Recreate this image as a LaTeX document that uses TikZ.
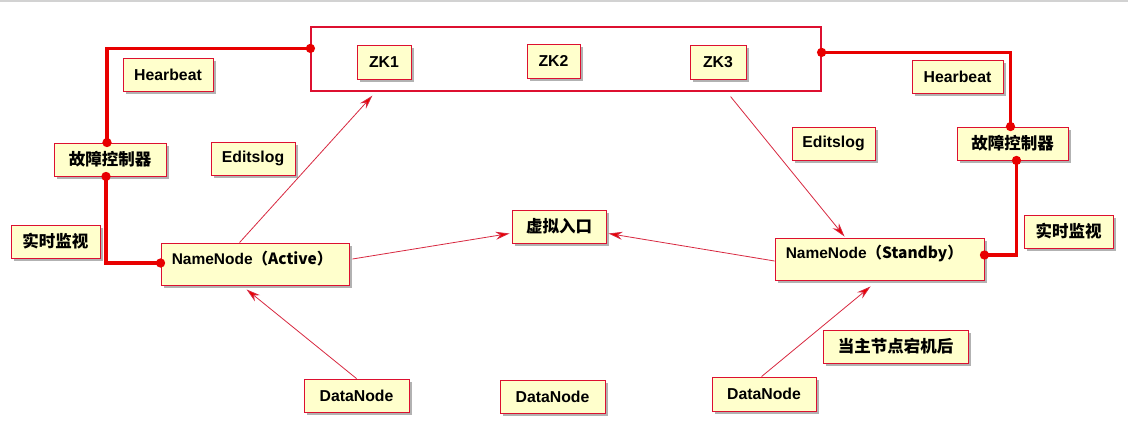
\documentclass[tikz,border=0pt]{standalone}
\usepackage{fontspec}
\setmainfont{Liberation Sans}
\newfontfamily\cjk{Noto Sans CJK SC}
\usetikzlibrary{arrows.meta,shadows,calc}
\definecolor{boxfill}{HTML}{FFFFCC}
\definecolor{boxline}{HTML}{DD1030}
\definecolor{thickc}{HTML}{E80000}
\definecolor{thinc}{HTML}{D82840}
\newcommand\bx[6]{\node[box, minimum width={#4-#2}, minimum height={#5-#3}] (#1) at ({(#2+#4)/2},{(#3+#5)/2}) {#6};}
\newcommand\zh[1]{{\cjk\bfseries\fontsize{16.5}{18}\selectfont #1}}
\begin{document}
\begin{tikzpicture}[x=1pt,y=-1pt,
  box/.style={draw=boxline, fill=boxfill, line width=0.9pt,
    drop shadow={shadow xshift=2.5pt, shadow yshift=-2.5pt, fill=black, opacity=0.3},
    inner sep=0pt, font=\bfseries\fontsize{15.8}{18}\selectfont},
  container/.style={draw=boxline, fill=white, line width=1.2pt, inner sep=0pt},
  txt/.style={anchor=west, inner sep=0pt, font=\bfseries\fontsize{15.5}{18}\selectfont},
  heavy/.style={draw=thickc, line width=3.6pt, {Circle[length=9pt]}-{Circle[length=9pt]}, shorten <=-4.5pt, shorten >=-4.5pt},
  light/.style={draw=thinc, line width=0.8pt, -{Stealth[length=14pt,width=8pt,fill=thickc]}}
]
\useasboundingbox (0,0) rectangle (1128,432);
\fill[white] (0,0) rectangle (1128,432);
\draw[gray!35, line width=1.5pt] (0,1) -- (1128,1);

% ZooKeeper container
\node[container, minimum width=510, minimum height=64] (zk) at (566,59) {};
\bx{zk1}{357}{45}{411}{79}{ZK1}
\bx{zk2}{527}{44}{580}{78}{ZK2}
\bx{zk3}{690}{45}{746}{79}{ZK3}

% labels
\bx{hbL}{123}{58}{213}{91}{Hearbeat}
\bx{ctlL}{54}{143}{166}{176}{\zh{故障控制器}}
\bx{elL}{211}{142}{295}{175}{Editslog}
\bx{rtL}{11}{225}{100}{258}{\zh{实时监视}}
\bx{hbR}{912}{60}{1003}{93}{Hearbeat}
\bx{ctlR}{957}{127}{1068}{160}{\zh{故障控制器}}
\bx{elR}{792}{127}{875}{160}{Editslog}
\bx{rtR}{1024}{215}{1113}{248}{\zh{实时监视}}

% NameNodes
\bx{nnA}{161}{243}{349}{285}{}
\node[txt] (nnAt) at ($(nnA.west)+(11,-5)$) {NameNode\cjk{\fontsize{15.5}{18}\selectfont （}Active\cjk{\fontsize{15.5}{18}\selectfont ）}};
\bx{nnS}{775}{238}{984}{280}{}
\node[txt] (nnSt) at ($(nnS.west)+(11,-5)$) {NameNode\cjk{\fontsize{15.5}{18}\selectfont （}Standby\cjk{\fontsize{15.5}{18}\selectfont ）}};

\bx{vip}{512}{210}{606}{243}{\zh{虚拟入口}}
\bx{dn1}{304}{379}{409}{412}{DataNode}
\bx{dn2}{500}{380}{605}{413}{DataNode}
\bx{dn3}{712}{377}{816}{411}{DataNode}
\bx{note}{823}{330}{968}{363}{\zh{当主节点宕机后}}

% heavy connectors
\draw[heavy] ($(zk.north west)+(0,22)$) -| ($(ctlL.north)+(-3,0)$);
\draw[heavy] ($(ctlL.south)+(-4,0)$) |- ($(nnA.west)+(0,-1)$);
\draw[heavy] ($(zk.north east)+(0,26)$) -| ($(ctlR.north)+(-2,0)$);
\draw[heavy] ($(ctlR.south)+(4,0)$) |- ($(nnS.east)+(0,-4)$);

% light arrows
\draw[light] ($(nnA.north west)+(79,0)$) -- ($(zk.south west)+(62,4)$);
\draw[light] ($(nnA.east)+(3,-5)$) -- ($(vip.west)+(-2,7)$);
\draw[light] ($(nnS.west)+(0,2)$) -- ($(vip.east)+(2,7)$);
\draw[light] ($(zk.south east)+(-91,5)$) -- ($(nnS.north west)+(70,-1)$);
\draw[light] ($(dn1.north)+(0,0)$) -- ($(nnA.south west)+(86,4)$);
\draw[light] ($(dn3.north west)+(50,0)$) -- ($(nnS.south west)+(96,6)$);
\end{tikzpicture}
\end{document}
